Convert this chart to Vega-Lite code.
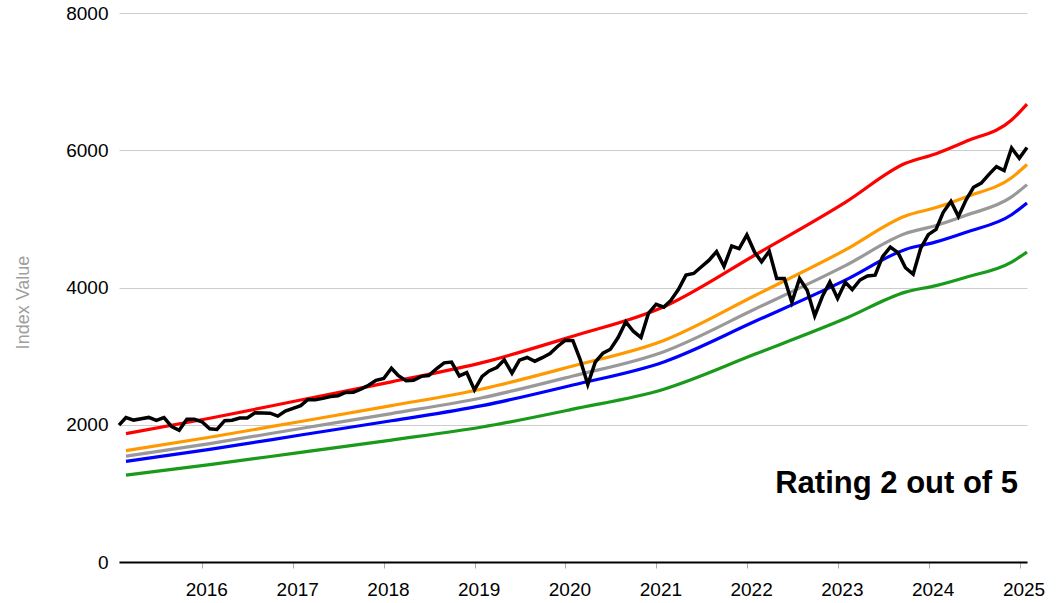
{
  "$schema": "https://vega.github.io/schema/vega-lite/v6.json",
  "width": 908,
  "height": 549,
  "autosize": "none",
  "padding": {"left": 119, "top": 13, "right": 33, "bottom": 41},
  "background": "white",
  "config": {
    "view": {"stroke": null},
    "font": "Liberation Sans"
  },
  "datasets": {
    "index": [
      {"date": "2015-01-31", "value": 1995}, {"date": "2015-02-28", "value": 2105}, {"date": "2015-03-31", "value": 2068}, {"date": "2015-04-30", "value": 2086}, {"date": "2015-05-31", "value": 2107}, {"date": "2015-06-30", "value": 2063}, {"date": "2015-07-31", "value": 2104}, {"date": "2015-08-31", "value": 1972}, {"date": "2015-09-30", "value": 1920}, {"date": "2015-10-31", "value": 2079}, {"date": "2015-11-30", "value": 2080}, {"date": "2015-12-31", "value": 2044},
      {"date": "2016-01-31", "value": 1940}, {"date": "2016-02-29", "value": 1932}, {"date": "2016-03-31", "value": 2060}, {"date": "2016-04-30", "value": 2065}, {"date": "2016-05-31", "value": 2097}, {"date": "2016-06-30", "value": 2099}, {"date": "2016-07-31", "value": 2174}, {"date": "2016-08-31", "value": 2171}, {"date": "2016-09-30", "value": 2168}, {"date": "2016-10-31", "value": 2126}, {"date": "2016-11-30", "value": 2199}, {"date": "2016-12-31", "value": 2239},
      {"date": "2017-01-31", "value": 2279}, {"date": "2017-02-28", "value": 2364}, {"date": "2017-03-31", "value": 2363}, {"date": "2017-04-30", "value": 2384}, {"date": "2017-05-31", "value": 2412}, {"date": "2017-06-30", "value": 2423}, {"date": "2017-07-31", "value": 2470}, {"date": "2017-08-31", "value": 2472}, {"date": "2017-09-30", "value": 2519}, {"date": "2017-10-31", "value": 2575}, {"date": "2017-11-30", "value": 2648}, {"date": "2017-12-31", "value": 2674},
      {"date": "2018-01-31", "value": 2824}, {"date": "2018-02-28", "value": 2714}, {"date": "2018-03-31", "value": 2641}, {"date": "2018-04-30", "value": 2648}, {"date": "2018-05-31", "value": 2705}, {"date": "2018-06-30", "value": 2718}, {"date": "2018-07-31", "value": 2816}, {"date": "2018-08-31", "value": 2902}, {"date": "2018-09-30", "value": 2914}, {"date": "2018-10-31", "value": 2712}, {"date": "2018-11-30", "value": 2760}, {"date": "2018-12-31", "value": 2507},
      {"date": "2019-01-31", "value": 2704}, {"date": "2019-02-28", "value": 2784}, {"date": "2019-03-31", "value": 2834}, {"date": "2019-04-30", "value": 2946}, {"date": "2019-05-31", "value": 2752}, {"date": "2019-06-30", "value": 2942}, {"date": "2019-07-31", "value": 2980}, {"date": "2019-08-31", "value": 2926}, {"date": "2019-09-30", "value": 2977}, {"date": "2019-10-31", "value": 3038}, {"date": "2019-11-30", "value": 3141}, {"date": "2019-12-31", "value": 3231},
      {"date": "2020-01-31", "value": 3226}, {"date": "2020-02-29", "value": 2954}, {"date": "2020-03-31", "value": 2585}, {"date": "2020-04-30", "value": 2912}, {"date": "2020-05-31", "value": 3044}, {"date": "2020-06-30", "value": 3100}, {"date": "2020-07-31", "value": 3271}, {"date": "2020-08-31", "value": 3500}, {"date": "2020-09-30", "value": 3363}, {"date": "2020-10-31", "value": 3270}, {"date": "2020-11-30", "value": 3622}, {"date": "2020-12-31", "value": 3756},
      {"date": "2021-01-31", "value": 3714}, {"date": "2021-02-28", "value": 3811}, {"date": "2021-03-31", "value": 3973}, {"date": "2021-04-30", "value": 4181}, {"date": "2021-05-31", "value": 4204}, {"date": "2021-06-30", "value": 4298}, {"date": "2021-07-31", "value": 4395}, {"date": "2021-08-31", "value": 4523}, {"date": "2021-09-30", "value": 4308}, {"date": "2021-10-31", "value": 4605}, {"date": "2021-11-30", "value": 4567}, {"date": "2021-12-31", "value": 4766},
      {"date": "2022-01-31", "value": 4516}, {"date": "2022-02-28", "value": 4374}, {"date": "2022-03-31", "value": 4530}, {"date": "2022-04-30", "value": 4132}, {"date": "2022-05-31", "value": 4132}, {"date": "2022-06-30", "value": 3785}, {"date": "2022-07-31", "value": 4130}, {"date": "2022-08-31", "value": 3955}, {"date": "2022-09-30", "value": 3586}, {"date": "2022-10-31", "value": 3872}, {"date": "2022-11-30", "value": 4080}, {"date": "2022-12-31", "value": 3840},
      {"date": "2023-01-31", "value": 4077}, {"date": "2023-02-28", "value": 3970}, {"date": "2023-03-31", "value": 4109}, {"date": "2023-04-30", "value": 4169}, {"date": "2023-05-31", "value": 4180}, {"date": "2023-06-30", "value": 4450}, {"date": "2023-07-31", "value": 4589}, {"date": "2023-08-31", "value": 4508}, {"date": "2023-09-30", "value": 4288}, {"date": "2023-10-31", "value": 4194}, {"date": "2023-11-30", "value": 4568}, {"date": "2023-12-31", "value": 4770},
      {"date": "2024-01-31", "value": 4846}, {"date": "2024-02-29", "value": 5096}, {"date": "2024-03-31", "value": 5254}, {"date": "2024-04-30", "value": 5036}, {"date": "2024-05-31", "value": 5278}, {"date": "2024-06-30", "value": 5460}, {"date": "2024-07-31", "value": 5522}, {"date": "2024-08-31", "value": 5648}, {"date": "2024-09-30", "value": 5762}, {"date": "2024-10-31", "value": 5705}, {"date": "2024-11-30", "value": 6032}, {"date": "2024-12-31", "value": 5882},
      {"date": "2025-01-31", "value": 6041}
    ],
    "bands": [
      {"date": "2015-02-28", "band": "red", "value": 1870}, {"date": "2016-01-31", "band": "red", "value": 2095}, {"date": "2017-01-31", "band": "red", "value": 2360}, {"date": "2018-01-31", "band": "red", "value": 2625}, {"date": "2019-01-31", "band": "red", "value": 2905}, {"date": "2020-01-31", "band": "red", "value": 3290}, {"date": "2021-01-31", "band": "red", "value": 3720}, {"date": "2022-01-31", "band": "red", "value": 4470}, {"date": "2023-01-31", "band": "red", "value": 5240}, {"date": "2023-09-30", "band": "red", "value": 5810}, {"date": "2024-01-31", "band": "red", "value": 5950}, {"date": "2024-05-31", "band": "red", "value": 6130}, {"date": "2024-11-30", "band": "red", "value": 6440}, {"date": "2025-01-31", "band": "red", "value": 6673},
      {"date": "2015-02-28", "band": "orange", "value": 1623}, {"date": "2016-01-31", "band": "orange", "value": 1818}, {"date": "2017-01-31", "band": "orange", "value": 2048}, {"date": "2018-01-31", "band": "orange", "value": 2278}, {"date": "2019-01-31", "band": "orange", "value": 2521}, {"date": "2020-01-31", "band": "orange", "value": 2856}, {"date": "2021-01-31", "band": "orange", "value": 3229}, {"date": "2022-01-31", "band": "orange", "value": 3880}, {"date": "2023-01-31", "band": "orange", "value": 4548}, {"date": "2023-09-30", "band": "orange", "value": 5043}, {"date": "2024-01-31", "band": "orange", "value": 5165}, {"date": "2024-05-31", "band": "orange", "value": 5320}, {"date": "2024-11-30", "band": "orange", "value": 5600}, {"date": "2025-01-31", "band": "orange", "value": 5792},
      {"date": "2015-02-28", "band": "gray", "value": 1541}, {"date": "2016-01-31", "band": "gray", "value": 1726}, {"date": "2017-01-31", "band": "gray", "value": 1945}, {"date": "2018-01-31", "band": "gray", "value": 2163}, {"date": "2019-01-31", "band": "gray", "value": 2394}, {"date": "2020-01-31", "band": "gray", "value": 2711}, {"date": "2021-01-31", "band": "gray", "value": 3065}, {"date": "2022-01-31", "band": "gray", "value": 3683}, {"date": "2023-01-31", "band": "gray", "value": 4318}, {"date": "2023-09-30", "band": "gray", "value": 4787}, {"date": "2024-01-31", "band": "gray", "value": 4903}, {"date": "2024-05-31", "band": "gray", "value": 5052}, {"date": "2024-11-30", "band": "gray", "value": 5320}, {"date": "2025-01-31", "band": "gray", "value": 5499},
      {"date": "2015-02-28", "band": "blue", "value": 1466}, {"date": "2016-01-31", "band": "blue", "value": 1642}, {"date": "2017-01-31", "band": "blue", "value": 1850}, {"date": "2018-01-31", "band": "blue", "value": 2058}, {"date": "2019-01-31", "band": "blue", "value": 2278}, {"date": "2020-01-31", "band": "blue", "value": 2579}, {"date": "2021-01-31", "band": "blue", "value": 2916}, {"date": "2022-01-31", "band": "blue", "value": 3504}, {"date": "2023-01-31", "band": "blue", "value": 4108}, {"date": "2023-09-30", "band": "blue", "value": 4555}, {"date": "2024-01-31", "band": "blue", "value": 4665}, {"date": "2024-05-31", "band": "blue", "value": 4806}, {"date": "2024-11-30", "band": "blue", "value": 5060}, {"date": "2025-01-31", "band": "blue", "value": 5232},
      {"date": "2015-02-28", "band": "green", "value": 1266}, {"date": "2016-01-31", "band": "green", "value": 1418}, {"date": "2017-01-31", "band": "green", "value": 1598}, {"date": "2018-01-31", "band": "green", "value": 1777}, {"date": "2019-01-31", "band": "green", "value": 1967}, {"date": "2020-01-31", "band": "green", "value": 2227}, {"date": "2021-01-31", "band": "green", "value": 2518}, {"date": "2022-01-31", "band": "green", "value": 3026}, {"date": "2023-01-31", "band": "green", "value": 3547}, {"date": "2023-09-30", "band": "green", "value": 3933}, {"date": "2024-01-31", "band": "green", "value": 4028}, {"date": "2024-05-31", "band": "green", "value": 4150}, {"date": "2024-11-30", "band": "green", "value": 4370}, {"date": "2025-01-31", "band": "green", "value": 4518}
    ],
    "note": [
      {"date": "2024-12-26", "value": 1005, "label": "Rating 2 out of 5"}
    ]
  },
  "encoding": {
    "x": {
      "field": "date",
      "type": "temporal",
      "scale": {
        "type": "utc",
        "domain": [{"year": 2015, "month": 1, "date": 31, "utc": true}, {"year": 2025, "month": 1, "date": 31, "utc": true}],
        "nice": false
      },
      "axis": {
        "title": null,
        "format": "%Y",
        "tickCount": {"interval": "year", "step": 1},
        "grid": false,
        "domain": true,
        "domainColor": "#000000",
        "domainWidth": 2,
        "ticks": true,
        "tickColor": "#aaaaaa",
        "tickSize": 6,
        "tickWidth": 1,
        "labelFontSize": 19,
        "labelColor": "#000000",
        "labelPadding": 12,
        "labelOffset": 4,
        "labelFlush": false,
        "labelOverlap": false
      }
    },
    "y": {
      "field": "value",
      "type": "quantitative",
      "scale": {"domain": [0, 8000], "nice": false, "zero": true},
      "axis": {
        "title": "Index Value",
        "titleColor": "#9e9e9e",
        "titleFontSize": 18,
        "titleFontWeight": "normal",
        "titleX": -87,
        "titleY": 289,
        "values": [0, 2000, 4000, 6000, 8000],
        "format": "d",
        "domain": false,
        "ticks": false,
        "tickSize": 0,
        "grid": true,
        "gridColor": "#cccccc",
        "gridWidth": 1,
        "labelFontSize": 19,
        "labelColor": "#000000",
        "labelPadding": 11
      }
    }
  },
  "layer": [
    {
      "data": {"name": "bands"},
      "mark": {"type": "line", "strokeWidth": 3.2, "interpolate": "monotone"},
      "encoding": {
        "color": {
          "field": "band",
          "type": "nominal",
          "scale": {
            "domain": ["red", "orange", "gray", "blue", "green"],
            "range": ["#ff0000", "#ff9900", "#999999", "#0000ff", "#1a9a1a"]
          },
          "legend": null
        }
      }
    },
    {
      "data": {"name": "index"},
      "mark": {"type": "line", "strokeWidth": 3.5, "color": "#000000", "strokeJoin": "miter"},
      "encoding": {}
    },
    {
      "data": {"name": "note"},
      "mark": {
        "type": "text",
        "align": "right",
        "baseline": "alphabetic",
        "font": "Liberation Sans",
        "fontSize": 31,
        "fontWeight": "bold",
        "color": "#000000"
      },
      "encoding": {"text": {"field": "label"}}
    }
  ]
}
